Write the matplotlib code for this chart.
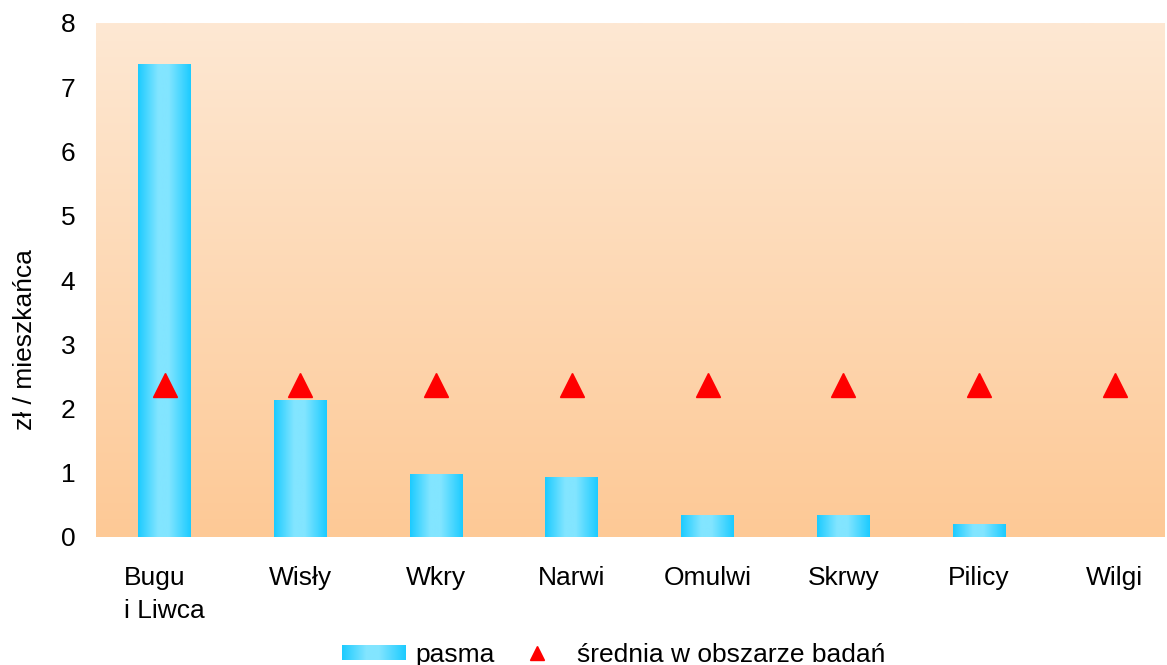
import numpy as np
import matplotlib
matplotlib.use("Agg")
import matplotlib.pyplot as plt
from matplotlib.colors import LinearSegmentedColormap
from matplotlib.image import BboxImage
from matplotlib.transforms import Bbox, TransformedBbox
from matplotlib.legend_handler import HandlerBase
from matplotlib.patches import Rectangle
from matplotlib.lines import Line2D

plt.rcParams['font.family'] = ['Liberation Sans', 'DejaVu Sans']
plt.rcParams['font.size'] = 19

# data
categories = ['Bugu\ni Liwca', 'Wisły', 'Wkry', 'Narwi', 'Omulwi', 'Skrwy', 'Pilicy', 'Wilgi']
pasma = [7.36, 2.12, 0.98, 0.92, 0.34, 0.34, 0.20, 0.0]
srednia = [2.36] * 8
y_ticks = [0, 1, 2, 3, 4, 5, 6, 7, 8]

# colours
bar_cmap = LinearSegmentedColormap.from_list('bar', ['#1ccbff', '#82e5ff'])
bg_cmap = LinearSegmentedColormap.from_list('bg', ['#fdc996', '#fee8d3'])

# horizontal profile of the bars: dark edges, light middle
xs = np.linspace(0, 1, 200)
profile = np.interp(xs, [0, 0.38, 0.58, 1], [0, 1, 1, 0])[None, :]

fig = plt.figure(figsize=(11.67, 6.65), dpi=100)
ax = fig.add_axes([96 / 1167, 1 - 537 / 665, (1165 - 96) / 1167, (537 - 23) / 665])

# background gradient
grad = np.linspace(0, 1, 256)[:, None]
ax.imshow(grad, cmap=bg_cmap, aspect='auto', extent=[0, 1, 0, 1],
          transform=ax.transAxes, origin='lower', zorder=0)

width = 0.39
x = np.arange(len(categories))
for xi, v in zip(x, pasma):
    if v <= 0:
        continue
    ax.imshow(profile, cmap=bar_cmap, aspect='auto', vmin=0, vmax=1,
              extent=[xi - width / 2, xi + width / 2, 0, v], zorder=2)

ax.plot(x, srednia, linestyle='none', marker='^', markersize=17,
        color='#ff0000', zorder=3)

ax.set_xlim(-0.505, 7.37)
ax.set_ylim(0, 8)
ax.set_yticks(y_ticks)
ax.set_xticks(x)
ax.set_xticklabels(categories, multialignment='left', linespacing=1.45)
ax.tick_params(axis='both', length=0)
ax.tick_params(axis='y', pad=15)
ax.tick_params(axis='x', pad=21)
for s in ax.spines.values():
    s.set_visible(False)

# y label sits a bit below the axes middle in the original
fig.text(25 / 1167, 1 - 340 / 665, 'zł / mieszkańca', rotation=90,
         ha='center', va='center')


class GradientHandler(HandlerBase):
    def create_artists(self, legend, orig_handle, xdescent, ydescent,
                       width, height, fontsize, trans):
        h = height * 0.8
        bb = Bbox.from_bounds(-xdescent, -ydescent + (height - h) / 2, width, h)
        img = BboxImage(TransformedBbox(bb, trans), cmap=bar_cmap,
                        norm=plt.Normalize(0, 1), interpolation='bilinear')
        img.set_data(profile)
        return [img]


h_bar = Rectangle((0, 0), 1, 1)
h_tri = Line2D([], [], linestyle='none', marker='^', markersize=10, color='#ff0000')
fig.legend([h_bar, h_tri], ['pasma', 'średnia w obszarze badań'],
           handler_map={Rectangle: GradientHandler()},
           loc='center', bbox_to_anchor=(614 / 1167, 1 - 655 / 665), ncol=2,
           frameon=False, handlelength=2.4, handletextpad=0.35,
           columnspacing=0.4, borderpad=0)

fig.savefig('out.png', dpi=100)
